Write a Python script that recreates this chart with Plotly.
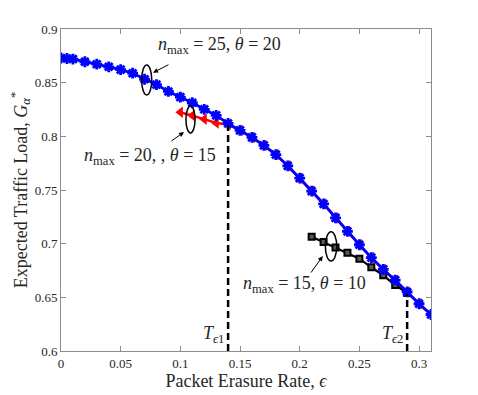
import plotly.graph_objects as go

# packet erasure rate (x) and expected traffic load (y) per curve
eps_25 = [0, 0.005, 0.01, 0.02, 0.03, 0.04, 0.05, 0.06, 0.07, 0.08, 0.09, 0.10,
          0.11, 0.12, 0.13, 0.14, 0.15, 0.16, 0.17, 0.18, 0.19, 0.20, 0.21,
          0.22, 0.23, 0.24, 0.25, 0.26, 0.27, 0.28, 0.29, 0.30, 0.31]
load_25 = [0.873, 0.8725, 0.872, 0.8695, 0.8672, 0.8648, 0.8622, 0.8588, 0.8532,
           0.8482, 0.8418, 0.8365, 0.8313, 0.8252, 0.8195, 0.812, 0.8055, 0.799,
           0.7915, 0.783, 0.7725, 0.761, 0.749, 0.737, 0.724, 0.7115, 0.699,
           0.687, 0.676, 0.666, 0.655, 0.644, 0.634]

eps_20 = [0.10, 0.11, 0.12, 0.13, 0.14, 0.15, 0.16, 0.17, 0.18, 0.19, 0.20, 0.21,
          0.22, 0.23, 0.24, 0.25, 0.26, 0.27, 0.28, 0.29, 0.30, 0.31]
load_20 = [0.8225, 0.8195, 0.816, 0.8125, 0.811, 0.8055, 0.799, 0.7915, 0.783,
           0.7725, 0.761, 0.749, 0.737, 0.724, 0.7115, 0.699, 0.687, 0.676,
           0.666, 0.655, 0.644, 0.634]

eps_15 = [0.21, 0.22, 0.23, 0.24, 0.25, 0.26, 0.27, 0.28, 0.29]
load_15 = [0.7065, 0.7015, 0.6965, 0.6915, 0.686, 0.678, 0.6705, 0.6615, 0.654]

# thresholds T_e1, T_e2
thresholds = [0.14, 0.29]
threshold_tops = [0.81, 0.653]
threshold_names = ["<i>T</i><sub><i>ϵ</i>1</sub>", "<i>T</i><sub><i>ϵ</i>2</sub>"]

x_ticks = [0, 0.05, 0.1, 0.15, 0.2, 0.25, 0.3]
y_ticks = [0.6, 0.65, 0.7, 0.75, 0.8, 0.85, 0.9]

FONT = "Liberation Serif"
AXC = "#8c8c8c"

fig = go.Figure()

fig.add_trace(go.Scatter(x=eps_20, y=load_20, mode="lines+markers",
                         line=dict(color="#ff0000", width=2.5),
                         marker=dict(symbol="triangle-left", size=10, color="#ff0000")))
fig.add_trace(go.Scatter(x=eps_15, y=load_15, mode="lines+markers",
                         line=dict(color="#000000", width=2.2),
                         marker=dict(symbol="square", size=6, color="#5a5a5a",
                                     line=dict(width=2, color="#000000"))))
fig.add_trace(go.Scatter(x=eps_25, y=load_25, mode="lines+markers",
                         line=dict(color="#0000ff", width=2.8),
                         marker=dict(symbol="asterisk-open", size=9, color="#0000ff",
                                     line=dict(width=2.8, color="#0000ff"))))

for t, top in zip(thresholds, threshold_tops):
    fig.add_trace(go.Scatter(x=[t, t], y=[0.6, top], mode="lines",
                             line=dict(color="#000000", width=2.5, dash="7px,4px")))

# ellipses marking the curves
ellipses = [(0.0676, 0.0760, 0.8385, 0.8665),
            (0.1047, 0.1123, 0.8031, 0.8283),
            (0.2215, 0.2310, 0.6838, 0.7111)]
for x0, x1, y0, y1 in ellipses:
    fig.add_shape(type="circle", xref="x", yref="y", x0=x0, x1=x1, y0=y0, y1=y1,
                  line=dict(color="#000000", width=1.5))

tfont = dict(family=FONT, size=18, color="#262626")
labels = [("<i>n</i><sub>max</sub> = 25, <i>θ</i> = 20", 0.1332, 0.885,
           (0.0913, 0.8674, 0.0771, 0.8593)),
          ("<i>n</i><sub>max</sub> = 20, , <i>θ</i> = 15", 0.0746, 0.781,
           (0.0913, 0.7947, 0.1031, 0.8040)),
          ("<i>n</i><sub>max</sub> = 15, <i>θ</i> = 10", 0.2040, 0.6615,
           (0.2086, 0.6717, 0.2193, 0.6885))]
for txt, lx, ly, (ax, ay, hx, hy) in labels:
    fig.add_annotation(x=lx, y=ly, text=txt, showarrow=False, font=tfont)
    fig.add_annotation(x=hx, y=hy, ax=ax, ay=ay, xref="x", yref="y",
                       axref="x", ayref="y", text="", showarrow=True,
                       arrowhead=2, arrowsize=1, arrowwidth=1, arrowcolor="#000000")

for t, name in zip(thresholds, threshold_names):
    fig.add_annotation(x=t - 0.0125, y=0.615, text=name, showarrow=False, font=tfont)

axis_common = dict(showline=True, linecolor=AXC, linewidth=1, mirror="ticks",
                   ticks="inside", ticklen=5, tickcolor=AXC, showgrid=False,
                   zeroline=False, tickfont=dict(family=FONT, size=13, color="#262626"))

fig.update_xaxes(range=[0, 0.31], tickvals=x_ticks, ticktext=[str(v) for v in x_ticks],
                 title=dict(text="Packet Erasure Rate, <i>ϵ</i>", standoff=2,
                            font=dict(family=FONT, size=18, color="#262626")),
                 **axis_common)
fig.update_yaxes(range=[0.6, 0.9], tickvals=y_ticks, ticktext=[str(v) for v in y_ticks],
                 title=dict(text="Expected Traffic Load, <i>G</i><sub><i>α</i></sub><sup>*</sup>",
                            standoff=8, font=dict(family=FONT, size=18, color="#262626")),
                 **axis_common)

# the page adds an 8px body margin, so the figure is drawn 8px smaller
fig.update_layout(width=470, height=387, showlegend=False,
                  margin=dict(l=53, r=47, t=21, b=44, autoexpand=False),
                  plot_bgcolor="white", paper_bgcolor="white")

fig.write_html("out.html")
